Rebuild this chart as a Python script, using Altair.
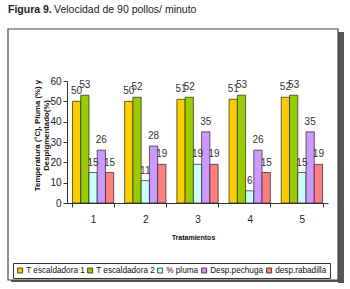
import altair as alt
import pandas as pd

# ---- data ----
tratamientos = ["1", "2", "3", "4", "5"]
series = ["T escaldadora 1", "T escaldadora 2", "% pluma", "Desp.pechuga", "desp.rabadilla"]
t_escaldadora_1 = [50, 50, 51, 51, 52]
t_escaldadora_2 = [53, 52, 52, 53, 53]
pct_pluma = [15, 11, 19, 6, 15]
desp_pechuga = [26, 28, 35, 26, 35]
desp_rabadilla = [15, 19, 19, 15, 19]
colors = ["#FFCC00", "#99CC00", "#CCFFFF", "#CC99FF", "#FF8080"]
y_ticks = [0, 10, 20, 30, 40, 50, 60]

values_by_series = [t_escaldadora_1, t_escaldadora_2, pct_pluma, desp_pechuga, desp_rabadilla]
rows = []
for s, vals in zip(series, values_by_series):
    for t, v in zip(tratamientos, vals):
        rows.append({"Tratamiento": t, "Serie": s, "Valor": v})
df = pd.DataFrame(rows)

FONT = "Liberation Sans, Arial, sans-serif"

W, H = 261, 122
PL, PT = 67, 81

x_enc = alt.X("Tratamiento:N", sort=tratamientos,
              scale=alt.Scale(paddingInner=0.21, paddingOuter=0.105),
              axis=alt.Axis(title="Tratamientos", labelAngle=0, tickBand="extent",
                            tickSize=4, tickColor="#333", domainColor="#333", zindex=2,
                            labelFont=FONT, labelFontSize=10, labelColor="#222",
                            labelPadding=7, titleFont=FONT, titleFontSize=7,
                            titleFontWeight="bold", titleColor="#111",
                            titleX=126, titleY=34, titleBaseline="middle"))
xo_enc = alt.XOffset("Serie:N", sort=series, scale=alt.Scale(paddingInner=0, paddingOuter=0))
y_enc = alt.Y("Valor:Q", scale=alt.Scale(domain=[0, 60], nice=False),
              axis=alt.Axis(values=y_ticks, tickCount=7, grid=False, tickSize=4,
                            tickColor="#333", domainColor="#333", zindex=2,
                            labelFont=FONT, labelFontSize=10,
                            labelColor="#222", labelPadding=2, labelOverlap=False,
                            labelBound=False, labelFlush=False,
                            title=["Temperatura (°C), Pluma (%) y", "Despigmentado(%)"],
                            titleFont=FONT, titleFontSize=7.8,
                            titleFontWeight="bold", titleColor="#111",
                            titleX=-30, titleY=54, titleAngle=-90,
                            titleAlign="center", titleBaseline="middle"))

bars = alt.Chart(df).mark_bar(stroke="#222", strokeWidth=0.7).encode(
    x=x_enc, xOffset=xo_enc, y=y_enc,
    color=alt.Color("Serie:N", sort=series,
                    scale=alt.Scale(domain=series, range=colors),
                    legend=alt.Legend(title=None, orient="none", legendX=-54, legendY=182,
                                      direction="horizontal", columns=5,
                                      strokeColor="#333", fillColor="white", padding=3,
                                      symbolType="square", symbolSize=25,
                                      symbolStrokeColor="#222", symbolStrokeWidth=0.8,
                                      labelFont=FONT, labelFontSize=8.2,
                                      labelColor="#111", columnPadding=1, labelOffset=2,
                                      zindex=3)),
)

labels = alt.Chart(df).mark_text(baseline="bottom", dy=-5, font=FONT, fontSize=10,
                                 color="#333").encode(
    x=x_enc, xOffset=xo_enc, y=y_enc,
    text="Valor:Q",
)

one = pd.DataFrame({"k": [0]})
shadow = alt.Chart(one).mark_rect(color="#555").encode(
    x=alt.value(338 - PL), x2=alt.value(344 - PL),
    y=alt.value(32 - PT), y2=alt.value(283 - PT))
shadow_b = alt.Chart(one).mark_rect(color="#555").encode(
    x=alt.value(11 - PL), x2=alt.value(344 - PL),
    y=alt.value(280 - PT), y2=alt.value(282 - PT))
frame = alt.Chart(one).mark_rect(fill="white", stroke="#444", strokeWidth=1.2).encode(
    x=alt.value(8 - PL), x2=alt.value(338 - PL),
    y=alt.value(29 - PT), y2=alt.value(280 - PT))

title_bold = alt.Chart(one).mark_text(align="left", baseline="middle", font=FONT,
                                      fontSize=10.5, fontWeight="bold", color="#222").encode(
    x=alt.value(8 - PL), y=alt.value(10 - PT), text=alt.value("Figura 9."))
title_rest = alt.Chart(one).mark_text(align="left", baseline="middle", font=FONT,
                                      fontSize=10.5, color="#222").encode(
    x=alt.value(54 - PL), y=alt.value(10 - PT),
    text=alt.value("Velocidad de 90 pollos/ minuto"))

chart = alt.layer(shadow, shadow_b, frame, bars, labels, title_bold, title_rest).properties(
    width=W, height=H,
    padding={"left": PL, "top": PT, "right": 350 - PL - W, "bottom": 289 - PT - H},
    autosize=alt.AutoSizeParams(type="none"),
    background="white",
).configure_view(stroke=None)

chart.save("out.html", embed_options={"renderer": "svg", "actions": False})
